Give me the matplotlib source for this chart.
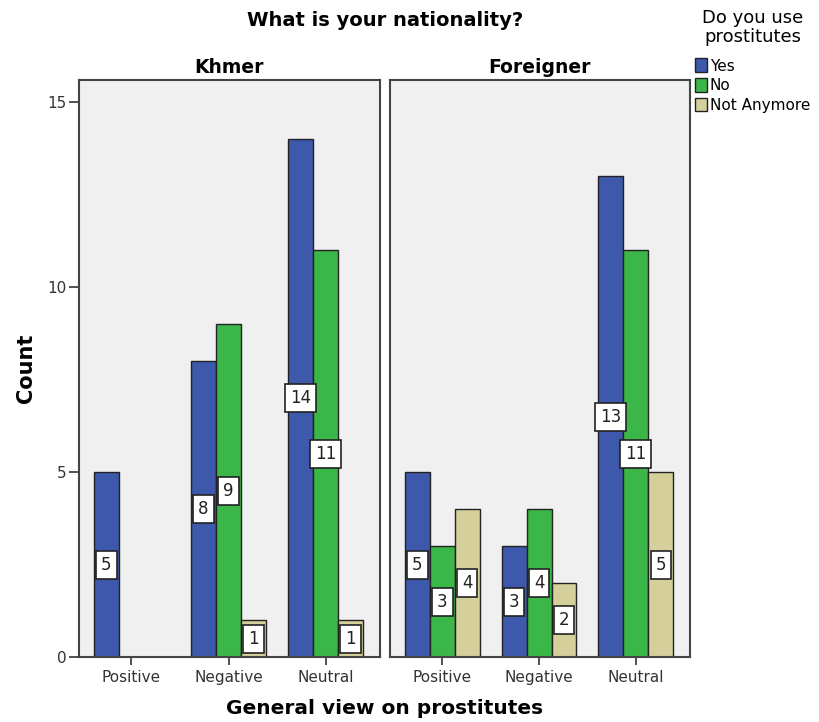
import matplotlib
matplotlib.use("Agg")
import matplotlib.pyplot as plt
from matplotlib.patches import Patch
import numpy as np

categories = ["Positive", "Negative", "Neutral"]
panels = ["Khmer", "Foreigner"]
series = ["Yes", "No", "Not Anymore"]
khmer_yes = [5, 8, 14]
khmer_no = [0, 9, 11]
khmer_not = [0, 1, 1]
foreigner_yes = [5, 3, 13]
foreigner_no = [3, 4, 11]
foreigner_not = [4, 2, 5]
colors = ["#3E58AC", "#3BB648", "#D5CF9B"]

data = {
    "Khmer": [khmer_yes, khmer_no, khmer_not],
    "Foreigner": [foreigner_yes, foreigner_no, foreigner_not],
}

plt.rcParams['font.family'] = ['DejaVu Sans']
fig = plt.figure(figsize=(8.19, 7.22), dpi=100)
axes_pos = [[79/819, 65/722, 301/819, 577/722],
            [390/819, 65/722, 300/819, 577/722]]
w = 0.258
x = np.arange(len(categories))
for i, (name, pos) in enumerate(zip(panels, axes_pos)):
    ax = fig.add_axes(pos)
    ax.set_facecolor("#F0F0F0")
    for j, vals in enumerate(data[name]):
        offs = (j - 1) * w
        ax.bar(x + offs, vals, width=w, color=colors[j], edgecolor="#222222", linewidth=1.0, zorder=2)
        for xi, v in zip(x + offs, vals):
            if v > 0:
                ax.text(xi, v / 2, str(v), ha="center", va="center", fontsize=12, zorder=3,
                        color="#222222",
                        bbox=dict(boxstyle="square,pad=0.3", fc="white", ec="#222222", lw=1.2))
    ax.set_xlim(-0.54, 2.56)
    ax.set_ylim(0, 15.6)
    ax.set_xticks(x)
    ax.set_xticklabels(categories, fontsize=11, color="#333333")
    ax.tick_params(axis="x", length=6, width=1.2, color="#333333")
    for s in ax.spines.values():
        s.set_color("#444444")
        s.set_linewidth(1.5)
    ax.set_title(name, fontsize=13.5, fontweight="bold", pad=5)
    if i == 0:
        ax.set_yticks([0, 5, 10, 15])
        ax.tick_params(axis="y", length=7, width=1.2, color="#333333", labelsize=11,
                       labelcolor="#333333", pad=2)
        ax.set_ylabel("Count", fontsize=15, fontweight="bold", labelpad=8)
    else:
        ax.set_yticks([])

fig.text(385/819, 1 - 20/722, "What is your nationality?", ha="center", va="center",
         fontsize=14, fontweight="bold")
fig.text(385/819, 1 - 708/722, "General view on prostitutes", ha="center", va="center",
         fontsize=14.5, fontweight="bold")

handles = [Patch(facecolor=c, edgecolor="#222222", linewidth=1.0, label=s) for c, s in zip(colors, series)]
leg = fig.legend(handles=handles, title="Do you use\nprostitutes", loc="upper left",
                 bbox_to_anchor=(693/819, 1 - 7/722), frameon=False, fontsize=11,
                 title_fontsize=13, handlelength=0.75, handleheight=1.0, handletextpad=0.2,
                 labelspacing=0.3, borderpad=0.15, borderaxespad=0.0, alignment="center")
leg._legend_box.sep = 9
leg.get_title().set_multialignment("center")
leg.get_title().set_linespacing(1.05)

fig.savefig("out.png", dpi=100)
